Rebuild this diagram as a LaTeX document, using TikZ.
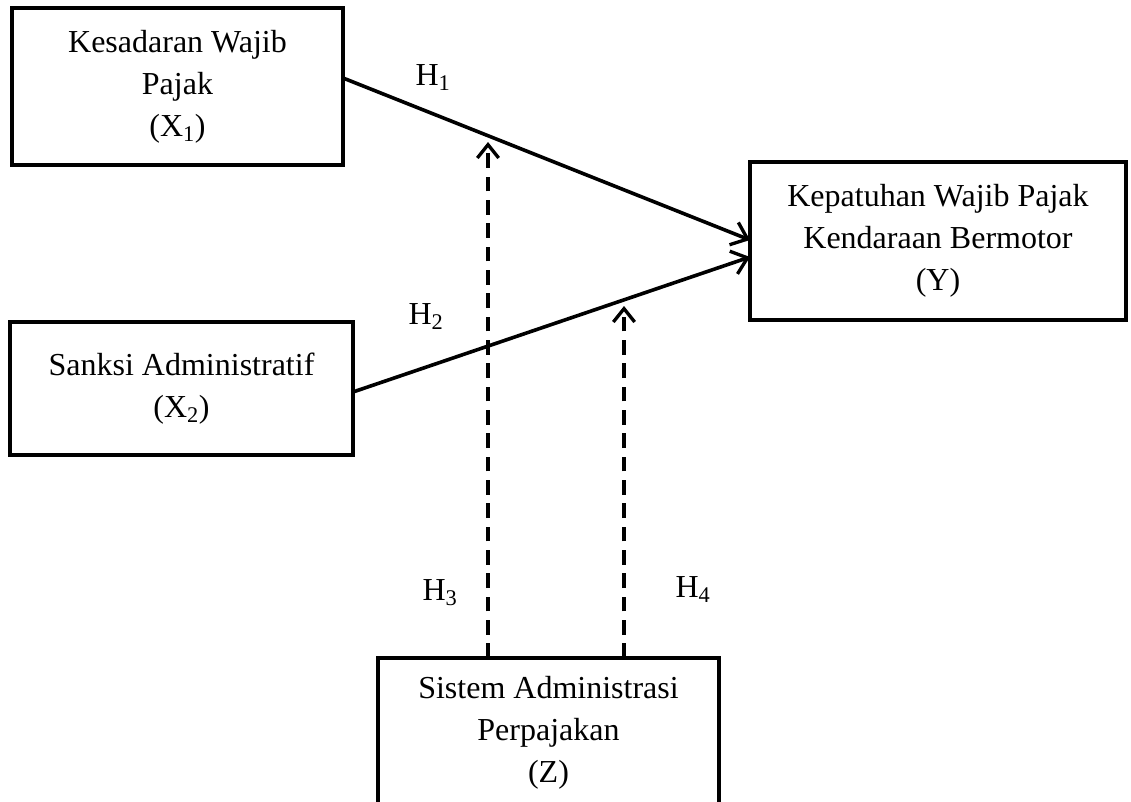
\documentclass[tikz,border=0pt]{standalone}
\usepackage{fontspec}
\setmainfont{Liberation Serif}
\usetikzlibrary{arrows.meta}
\tikzset{
  boxnode/.style={draw, line width=3.6pt, align=center, inner sep=0pt, font=\fontsize{24}{31.5}\selectfont},
  conn/.style={line width=2.7pt, -{Straight Barb[length=11pt,width=18pt,line width=2.5pt]}},
  dconn/.style={line width=3pt, dash pattern=on 11pt off 6.5pt, -{Straight Barb[length=10pt,width=16pt,line width=2.5pt]}},
  lbl/.style={font=\fontsize{24}{28}\selectfont, inner sep=0pt}
}
\begin{document}
\begin{tikzpicture}[x=0.75pt,y=-0.75pt]
\useasboundingbox (0,0) rectangle (1131,802);
\node[boxnode, minimum width=248.25pt, minimum height=117.75pt] (x1) at (177.5,86.5) {Kesadaran Wajib\\Pajak\\(X\textsubscript{1})};
\node[boxnode, minimum width=257.25pt, minimum height=99.75pt] (x2) at (181.5,388.5) {Sanksi Administratif\\(X\textsubscript{2})};
\node[boxnode, minimum width=282pt, minimum height=118.5pt] (y) at (938,241) {Kepatuhan Wajib Pajak\\Kendaraan Bermotor\\(Y)};
\node[boxnode, minimum width=255.75pt, minimum height=112.5pt] (z) at (548.5,733) {Sistem Administrasi\\Perpajakan\\(Z)};
\coordinate (s1) at (343,78);
\coordinate (t1) at (750,240);
\coordinate (s2) at (353,392);
\coordinate (t2) at (750,257);
\coordinate (m1) at (488,142);
\coordinate (m2) at (624,306);
\coordinate (z1) at (488,658);
\coordinate (z2) at (624,658);
\draw[conn] (s1) -- (t1);
\draw[conn] (s2) -- (t2);
\draw[dconn] (z1) -- (m1);
\draw[dconn] (z2) -- (m2);
\node[lbl] (h1) at (433,78) {H\textsubscript{1}};
\node[lbl] (h2) at (426,317) {H\textsubscript{2}};
\node[lbl] (h3) at (440,593) {H\textsubscript{3}};
\node[lbl] (h4) at (693,590) {H\textsubscript{4}};
\end{tikzpicture}
\end{document}
